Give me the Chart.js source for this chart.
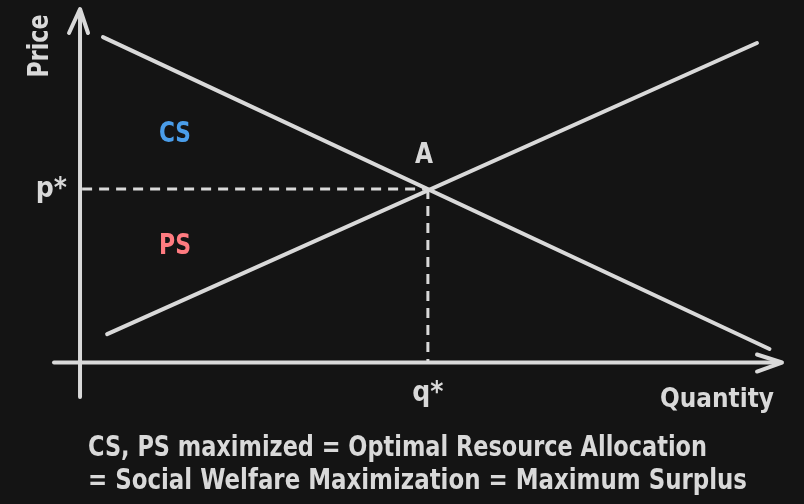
<!DOCTYPE html>
<html>
<head>
<meta charset="utf-8">
<script src="https://cdn.jsdelivr.net/npm/chart.js@4/dist/chart.umd.min.js"></script>
<style>
  html, body { margin: 0; padding: 0; background: #141414; }
  canvas { display: block; }
</style>
</head>
<body>
<canvas id="c" width="804" height="504"></canvas>
<script>
// ---- data ----
const demandLine = [{x: 0.33, y: 9.38}, {x: 9.91, y: 0.39}];
const supplyLine = [{x: 0.39, y: 0.82}, {x: 9.73, y: 9.21}];
const equilibrium = {q: 5, p: 5};
const axisLabels = {x: 'Quantity', y: 'Price'};
const eqLabels = {price: 'p*', quantity: 'q*', point: 'A'};
const areaLabels = ['CS', 'PS'];
const captionLines = [
  'CS, PS maximized = Optimal Resource Allocation',
  '= Social Welfare Maximization = Maximum Surplus'
];

const FG = '#d9d9d9';
const FONT = '"DejaVu Sans Condensed", "DejaVu Sans", sans-serif';

function txt(ctx, s, x, y, size, color, align, maxW) {
  ctx.save();
  ctx.font = 'bold ' + size + 'px ' + FONT;
  ctx.fillStyle = color;
  ctx.textAlign = align || 'left';
  ctx.textBaseline = 'alphabetic';
  if (maxW) ctx.fillText(s, x, y, maxW); else ctx.fillText(s, x, y);
  ctx.restore();
}

const decor = {
  id: 'decor',
  beforeDatasetsDraw(chart) {
    const {ctx, scales: {x, y}} = chart;
    const x0 = x.getPixelForValue(0), y0 = y.getPixelForValue(0);
    const xl = x.getPixelForValue(x.min), xr = x.getPixelForValue(x.max);
    const yb = y.getPixelForValue(y.min), yt = y.getPixelForValue(y.max);
    ctx.save();
    ctx.strokeStyle = FG;
    ctx.lineWidth = 4;
    ctx.lineCap = 'round';
    ctx.lineJoin = 'round';
    // x axis
    ctx.beginPath(); ctx.moveTo(xl, y0); ctx.lineTo(xr - 2, y0); ctx.stroke();
    ctx.beginPath(); ctx.moveTo(xr - 25, y0 - 8); ctx.lineTo(xr, y0); ctx.lineTo(xr - 25, y0 + 9); ctx.stroke();
    // y axis
    ctx.beginPath(); ctx.moveTo(x0, yb); ctx.lineTo(x0, yt + 2); ctx.stroke();
    ctx.beginPath(); ctx.moveTo(x0 - 11, yt + 24); ctx.lineTo(x0, yt); ctx.lineTo(x0 + 8, yt + 24); ctx.stroke();
    ctx.restore();
  },
  afterDraw(chart) {
    const {ctx, scales: {x, y}} = chart;
    const x0 = x.getPixelForValue(0), y0 = y.getPixelForValue(0);
    const qx = x.getPixelForValue(equilibrium.q), py = y.getPixelForValue(equilibrium.p);
    // axis titles
    txt(ctx, axisLabels.x, 774, 407, 27, FG, 'right', 114);
    ctx.save();
    ctx.translate(48, 46);
    ctx.rotate(-Math.PI / 2);
    txt(ctx, axisLabels.y, 0, 0, 28, FG, 'center', 63);
    ctx.restore();
    // p*, q*, A
    txt(ctx, eqLabels.price, x0 - 13, py + 8, 28, FG, 'right', 32);
    txt(ctx, eqLabels.quantity, qx, 401, 28, FG, 'center', 32);
    txt(ctx, eqLabels.point, qx - 4, py - 26, 29, FG, 'center', 18);
    // CS / PS
    txt(ctx, areaLabels[0], 175, 142, 28, '#4a9de9', 'center', 32);
    txt(ctx, areaLabels[1], 175, 254, 28, '#ff7b80', 'center', 32);
    // caption
    txt(ctx, captionLines[0], 88, 456, 29, FG, 'left', 619);
    txt(ctx, captionLines[1], 88, 489, 29, FG, 'left', 659);
  }
};

const lineStyle = {borderColor: FG, borderWidth: 4, pointRadius: 0, showLine: true, fill: false, borderCapStyle: 'round', tension: 0};

new Chart(document.getElementById('c'), {
  type: 'scatter',
  data: {
    datasets: [
      Object.assign({label: 'Demand', data: demandLine}, lineStyle),
      Object.assign({label: 'Supply', data: supplyLine}, lineStyle),
      Object.assign({label: 'p*', data: [{x: 0.03, y: equilibrium.p}, {x: equilibrium.q, y: equilibrium.p}]}, lineStyle, {borderWidth: 3, borderDash: [10, 7], borderCapStyle: 'butt'}),
      Object.assign({label: 'q*', data: [{x: equilibrium.q, y: equilibrium.p}, {x: equilibrium.q, y: 0}]}, lineStyle, {borderWidth: 3, borderDash: [10, 7], borderCapStyle: 'butt'})
    ]
  },
  options: {
    responsive: false,
    animation: false,
    devicePixelRatio: 1,
    layout: {padding: {left: 54, right: 22, top: 9, bottom: 107}},
    plugins: {legend: {display: false}, tooltip: {enabled: false}},
    scales: {
      x: {type: 'linear', display: false, min: -0.374, max: 10.09},
      y: {type: 'linear', display: false, min: -0.994, max: 10.19}
    }
  },
  plugins: [decor]
});
</script>
</body>
</html>
